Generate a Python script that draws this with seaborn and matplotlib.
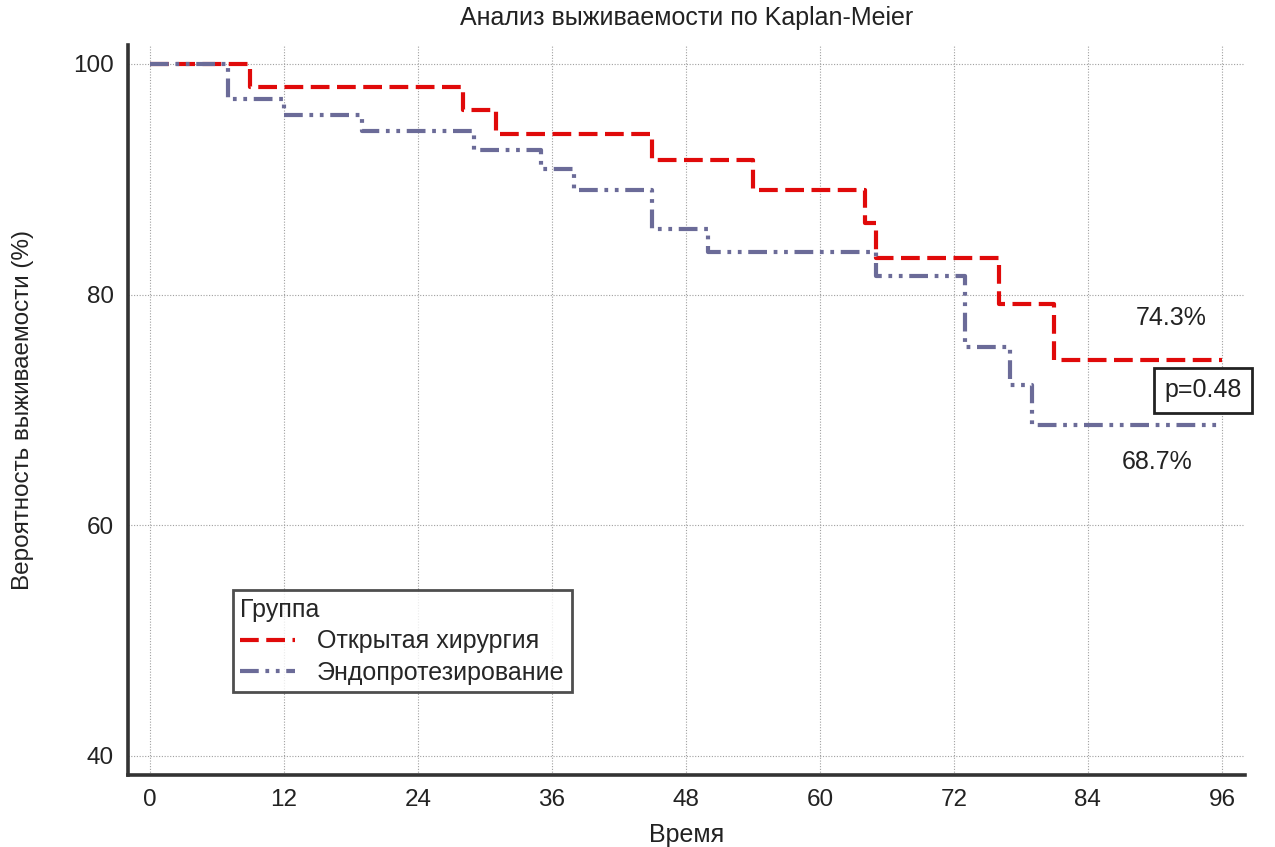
import pandas as pd
import matplotlib.pyplot as plt
import seaborn as sns
from matplotlib.lines import Line2D

# ------------------------------------------------------------
# Daten (abgelesen aus der Kaplan-Meier-Grafik)
# ------------------------------------------------------------
group_open = "Открытая хирургия"
group_endo = "Эндопротезирование"

time_open = [0, 9, 28, 31, 45, 54, 64, 65, 76, 81, 96]
surv_open = [100, 98.0, 96.0, 93.9, 91.7, 89.1, 86.2, 83.2, 79.2, 74.3, 74.3]

time_endo = [0, 7, 12, 19, 29, 35, 38, 45, 50, 65, 73, 77, 79, 96]
surv_endo = [100, 97.0, 95.6, 94.2, 92.5, 90.85, 89.1, 85.7, 83.7, 81.6, 75.5, 72.2, 68.7, 68.7]

x_ticks = [0, 12, 24, 36, 48, 60, 72, 84, 96]
y_ticks = [40, 60, 80, 100]

final_open = "74.3%"
final_endo = "68.7%"
p_text = "p=0.48"

df = pd.concat([
    pd.DataFrame({"time": time_open, "surv": surv_open, "group": group_open}),
    pd.DataFrame({"time": time_endo, "surv": surv_endo, "group": group_endo}),
], ignore_index=True)

# ------------------------------------------------------------
# Stil
# ------------------------------------------------------------
sns.set_style("white")
plt.rcParams["font.family"] = ["Liberation Sans", "DejaVu Sans"]
plt.rcParams["font.size"] = 18

txt = "#222222"
red = "#e00a0a"
blue = "#6b6b98"
palette = {group_open: red, group_endo: blue}
dashes = {group_open: (4.5, 1.8), group_endo: (4.5, 1.6, 0.9, 1.6, 0.9, 1.6)}

fig = plt.figure(figsize=(12.75, 8.47), dpi=100)
ax = fig.add_axes([0.1004, 0.085, 0.876, 0.862])

sns.lineplot(
    data=df, x="time", y="surv", hue="group", style="group",
    hue_order=[group_open, group_endo], style_order=[group_open, group_endo],
    palette=palette, dashes=dashes, estimator=None, drawstyle="steps-post",
    linewidth=3, legend=False, ax=ax, zorder=3,
)

ax.set_xlim(-1.97, 98.06)
ax.set_ylim(38.35, 101.65)
ax.set_xticks(x_ticks)
ax.set_yticks(y_ticks)
ax.grid(True, linestyle=(0, (1, 1.5)), color="#a0a0a0", linewidth=0.8, zorder=0)

for side in ["top", "right"]:
    ax.spines[side].set_visible(False)
for side in ["left", "bottom"]:
    ax.spines[side].set_linewidth(2.6)
    ax.spines[side].set_color("#333333")
ax.tick_params(direction="in", length=13, width=2.2, color="#333333",
               labelsize=17.5, labelcolor=txt, pad=10)

ax.set_title("Анализ выживаемости по Kaplan-Meier", fontsize=18, color=txt, pad=14)
ax.set_xlabel("Время", fontsize=18, color=txt, labelpad=9)
ax.set_ylabel("Вероятность выживаемости (%)", fontsize=17.5, color=txt, labelpad=28)

# Beschriftungen am Kurvenende
ax.text(91.5, 78.0, final_open, ha="center", va="center", fontsize=18, color=txt,
        bbox=dict(facecolor="white", edgecolor="none", pad=6), zorder=4)
ax.text(90.2, 65.5, final_endo, ha="center", va="center", fontsize=18, color=txt,
        bbox=dict(facecolor="white", edgecolor="none", pad=6), zorder=4)
ax.text(94.3, 71.7, p_text, ha="center", va="center", fontsize=18, color=txt,
        bbox=dict(facecolor="white", edgecolor=txt, linewidth=2,
                  boxstyle="square,pad=0.42"), zorder=5, clip_on=False)

# Legende
handles = [
    Line2D([], [], color=red, linewidth=3, dashes=dashes[group_open]),
    Line2D([], [], color=blue, linewidth=3, dashes=dashes[group_endo]),
]
leg = ax.legend(handles, [group_open, group_endo], title="Группа",
                loc="upper left", bbox_to_anchor=(0.094, 0.253), borderaxespad=0,
                fontsize=18, title_fontsize=18, frameon=True, fancybox=False,
                handlelength=2.2, handletextpad=0.85, labelspacing=0.3,
                borderpad=0.3, edgecolor=txt)
leg.get_frame().set_linewidth(2)
leg._legend_box.align = "left"
leg.set_zorder(6)

fig.savefig("out.png", dpi=100)
